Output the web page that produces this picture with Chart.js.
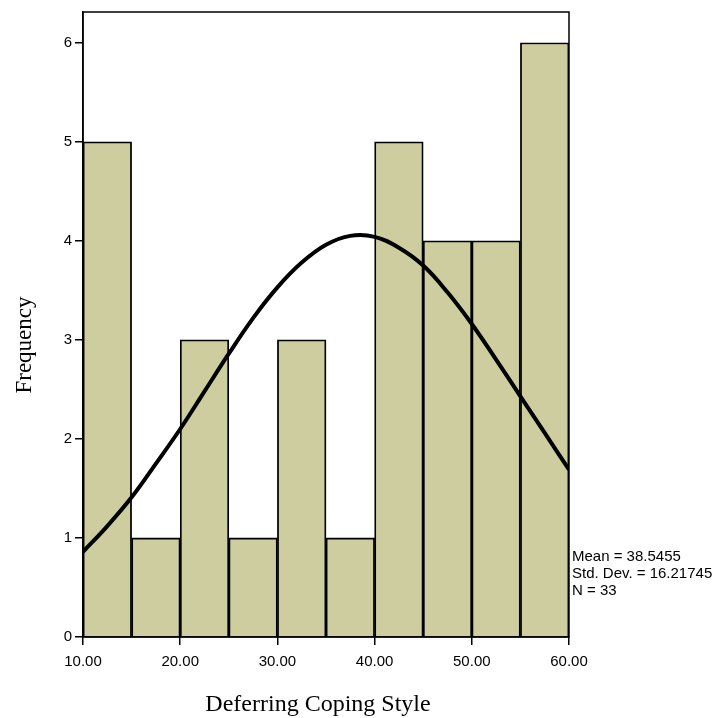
<!DOCTYPE html>
<html>
<head>
<meta charset="utf-8">
<script src="https://cdn.jsdelivr.net/npm/chart.js@4/dist/chart.umd.min.js"></script>
<style>
  body { margin: 0; background: #fff; }
  canvas { display: block; }
</style>
</head>
<body>
<canvas id="myChart" width="714" height="718"></canvas>
<script>
// histogram bins (centres, width 5) and counts
var binCentres = [12.5, 17.5, 22.5, 27.5, 32.5, 37.5, 42.5, 47.5, 52.5, 57.5];
var counts = [5, 1, 3, 1, 3, 1, 5, 4, 4, 6];
// normal curve
var curveX = [10, 12.5, 15, 17.5, 20, 22.5, 25, 27.5, 30, 32.5, 35, 37.5, 40, 42.5, 45, 47.5, 50, 52.5, 55, 57.5, 60];
var curveY = [0.86, 1.12, 1.41, 1.75, 2.1, 2.48, 2.86, 3.22, 3.53, 3.78, 3.96, 4.05, 4.04, 3.93, 3.75, 3.48, 3.16, 2.8, 2.43, 2.06, 1.69];
var xTicks = [10, 20, 30, 40, 50, 60];
var yTicks = [0, 1, 2, 3, 4, 5, 6];
var statsText = ['Mean = 38.5455', 'Std. Dev. = 16.21745', 'N = 33'];
var xTitle = 'Deferring Coping Style';
var yTitle = 'Frequency';

var bars = [];
for (let i in binCentres) {
  bars[i] = { x: binCentres[i], y: counts[i] }
}
var curve = [];
for (let i in curveX) {
  curve[i] = { x: curveX[i], y: curveY[i] }
}

var extras = {
  id: 'extras',
  afterDraw(chart) {
    var ctx = chart.ctx;
    var a = chart.chartArea;
    ctx.save();
    ctx.strokeStyle = '#000';
    ctx.lineWidth = 1.5;
    ctx.strokeRect(a.left, a.top, a.right - a.left, a.bottom - a.top);
    ctx.fillStyle = '#000';
    ctx.font = '15px "Liberation Sans", Arial, sans-serif';
    ctx.textAlign = 'left';
    ctx.textBaseline = 'middle';
    for (let i in statsText) {
      ctx.fillText(statsText[i], a.right + 3, 557 + i * 17);
    }
    ctx.textAlign = 'center';
    ctx.textBaseline = 'alphabetic';
    ctx.font = '24px "Liberation Serif", "Times New Roman", serif';
    ctx.fillText(xTitle, 318, 711);
    ctx.font = '23px "Liberation Serif", "Times New Roman", serif';
    ctx.translate(31, 345);
    ctx.rotate(-Math.PI / 2);
    ctx.fillText(yTitle, 0, 0);
    ctx.restore();
  }
};

const myChart = new Chart('myChart', {
  data: {
    datasets: [
      {
        type: 'line',
        data: curve,
        borderColor: '#000',
        borderWidth: 4,
        pointRadius: 0,
        tension: 0.4,
        fill: false,
        order: 0
      },
      {
        type: 'bar',
        data: bars,
        backgroundColor: '#cdcd9f',
        borderColor: '#000',
        borderWidth: 1.8,
        barPercentage: 1,
        categoryPercentage: 1,
        order: 1
      }
    ]
  },
  options: {
    responsive: false,
    animation: false,
    layout: { padding: { left: 0, top: 12, right: 145, bottom: 0 } },
    plugins: { legend: { display: false }, tooltip: { enabled: false } },
    scales: {
      x: {
        type: 'linear',
        min: 10,
        max: 60,
        offset: false,
        afterFit(scale) { scale.height = 81 },
        afterBuildTicks(scale) { scale.ticks = xTicks.map(v => ({ value: v })) },
        grid: { offset: false, drawOnChartArea: false, drawTicks: true, tickLength: 8, color: '#000', lineWidth: 1.5 },
        border: { display: true, color: '#000', width: 1.5 },
        ticks: {
          color: '#000',
          padding: 8,
          maxRotation: 0,
          font: { family: '"Liberation Sans", Arial, sans-serif', size: 15 },
          callback: v => v.toFixed(2)
        }
      },
      y: {
        type: 'linear',
        min: 0,
        max: 6.31,
        afterFit(scale) { scale.width = 83 },
        afterBuildTicks(scale) { scale.ticks = yTicks.map(v => ({ value: v })) },
        grid: { drawOnChartArea: false, drawTicks: true, tickLength: 8, color: '#000', lineWidth: 1.5 },
        border: { display: true, color: '#000', width: 1.5 },
        ticks: {
          color: '#000',
          padding: 3,
          font: { family: '"Liberation Sans", Arial, sans-serif', size: 15 },
          callback: v => String(v)
        }
      }
    }
  },
  plugins: [extras]
});
</script>
</body>
</html>
